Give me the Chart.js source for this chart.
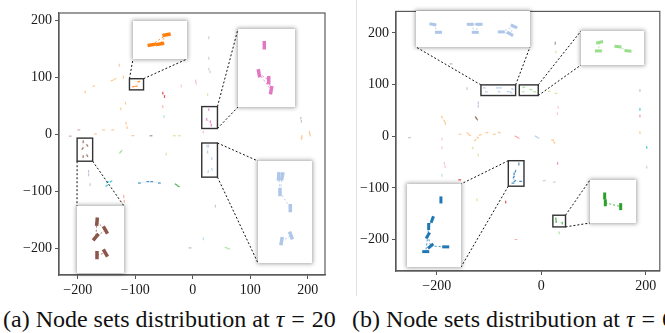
<!DOCTYPE html>
<html>
<head>
<meta charset="utf-8">
<script src="https://cdn.jsdelivr.net/npm/chart.js@4.4.0/dist/chart.umd.min.js"></script>
<style>
  body { margin: 0; background: #fff; width: 665px; height: 333px; overflow: hidden; position: relative; font-family: "Liberation Serif", serif; }
  canvas { position: absolute; }
  .inset { background: #fff; box-shadow: 0 0 4px 1px rgba(0,0,0,0.35); z-index: 2; }
  .cap { position: absolute; top: 307px; font-size: 24px; line-height: 24px; white-space: nowrap; color: #111; }
  .eq { margin: 0 1px; }
  #sep { position: absolute; left: 356px; top: 0; width: 1px; height: 296px; background: #e2e2e2; }
</style>
</head>
<body>
<canvas id="c20" width="340" height="300" style="left:0;top:0"></canvas>
<canvas id="c60" width="325" height="300" style="left:340px;top:0"></canvas>
<div id="sep"></div>
<div class="cap" style="left:3px">(a) Node sets distribution at <i>τ</i> <span class="eq">=</span> 20</div>
<div class="cap" style="left:352px">(b) Node sets distribution at <i>τ</i> <span class="eq">=</span> 60</div>
<script>
// tab20 colours, indexed by node class
var palette = ['#1f77b4','#aec7e8','#ff7f0e','#ffbb78','#2ca02c','#98df8a','#d62728','#ff9896','#9467bd','#c5b0d5',
               '#8c564b','#c49c94','#e377c2','#f7b6d2','#7f7f7f','#c7c7c7','#bcbd22','#dbdb8d','#17becf','#9edae5']

// ===== tau = 20 =====
var tau20X = [-127.5,-120.6,-140,-135,-172,-187,-103,-93.6,-97.7,-117,-125,-116,-114,-155,-139,-198,-169,-104,-213,-52,
              -49,-52,-50,-20,6,5,27.8,27.8,28,30,26,27.9,24.4,30.8,32.4,18.5,188,189,190,189,
              203,204,-72.5,-32,-23,-190.5,-183.3,-191.5,-190.5,-183.3,-126,-124,-46,-181,-181,-178.5,-148,-142,-149.5,-92.8,
              -78,-71.3,-58,-29,-25,-120,-119,24.9,27.4,25.8,33.1,26.9,33.6,39.4,18.5,58,62.6,-4.6]
var tau20Y = [122,100.6,95,97.5,85,75,84,92.8,84.8,55,45,20,12,8,8,8,1,-2,-3,72.5,
              66.7,49,31.6,85,90,94,170,134,115,110,70,43.7,26.5,22.3,16.1,4,28.6,23,-3.5,-7,
              3.5,-1,-2.3,-2.3,-2.3,-12.7,-19.2,-24.8,-39,-37.3,-31.6,-29,-34.5,-65,-71,-88,-84,-82.5,-90,-85.4,
              -83,-83,-85.4,-88,-91,-109,-117.5,-20.3,-20.3,-31.1,-42.3,-65.2,-61.3,-126,-183.6,-199,-201,-199.4]
var tau20Class = [3,3,3,3,3,3,2,2,2,3,3,3,3,3,3,11,3,3,11,6,
                  6,7,19,13,13,13,15,15,15,15,17,12,12,12,12,13,9,9,3,3,
                  3,3,14,17,17,10,10,10,10,10,5,5,17,9,9,9,18,18,18,0,
                  0,0,0,4,4,7,7,1,1,1,1,1,1,9,19,5,5,11]
var tau20Edges = [[2,3],[6,7],[7,8],[6,8],[11,12],[19,20],[24,25],[28,29],[32,33],[32,34],[33,34],[36,37],[38,39],[40,41],
                  [43,44],[45,46],[46,47],[45,47],[48,49],[50,51],[53,54],[56,57],[56,58],[59,60],[60,61],[61,62],[63,64],
                  [65,66],[67,69],[68,69],[69,70],[71,72],[75,76]]
var tau20XTicks = [-200, -100, 0, 100, 200]
var tau20YTicks = [-200, -100, 0, 100, 200]
var tau20Zoom = [[-110,-85.5,78.4,98],[15.7,43,10.5,49],[15.7,43,-75,-15],[-201,-174,-47,-6.4]]

// ===== tau = 60 =====
var tau60X = [26.8,28,-172.7,-142,-108.8,-105.1,-84,-78.2,-80.7,-63.4,-55,-57.6,-33.4,-34.3,-19.8,-12.4,15.3,28,189,-120.5,
              -120.5,31,32.5,189,189,-125,-123,-190,-185.5,-183.6,-252,-155.4,-140.8,-137,-126.2,-121.6,-116.6,-103.8,-89.9,-80.3,
              -48.4,-44,-10,-6,21.8,25,-190,-190,-185.5,-184,-131,-120.5,-190,31.3,-156,5.7,25,-123,-68,-42.8,
              -49.3,-52,-52.6,-50.5,-54.2,-39.2,28.1,28.6,40.2,34.4,-48.4,202,202,189]
var tau60Y = [180,163,140,92,93.5,86,93.5,93.5,86,86.4,91.6,84.5,94.9,86.1,90.5,86.1,87,83,88.5,64.7,
              58,43.6,56,52,39,36,33,37,29.5,24.4,-2.6,3.8,5.8,2,-7.7,-2.7,2.5,7,3.8,7,
              -0.7,-3,-0.7,-3,-7.7,-12.3,-5.8,-22,-52.7,-59,-23,-36,-76,-52.7,-84.6,-86,-89,-123,-127.7,-53.8,
              -67.8,-72.8,-79.2,-86.8,-90.8,-87.4,-160,-165.3,-168.3,-187.2,-200,-21.8,-60,7]
var tau60Class = [14,17,11,9,1,1,1,1,1,1,1,1,5,5,5,5,17,17,9,9,
                  9,13,13,18,12,10,10,3,3,3,9,3,3,3,3,3,3,3,3,3,
                  7,7,1,1,3,3,13,13,13,13,17,17,19,12,6,15,15,17,6,0,
                  0,0,0,0,0,0,4,4,4,5,7,18,15,3]
var tau60Edges = [[4,5],[6,7],[6,8],[7,8],[9,10],[9,11],[10,11],[12,13],[14,15],[19,20],[25,26],[27,28],[28,29],[32,33],
                  [34,35],[35,36],[40,41],[42,43],[44,45],[48,49],[60,61],[61,62],[62,63],[62,64],[63,65],[66,67],[67,68]]
var tau60XTicks = [-200, 0, 200]
var tau60YTicks = [-200, -100, 0, 100, 200]
var tau60Zoom = [[-115.4,-49,78.8,99.4],[-42,-5.7,78.8,99.4],[-63,-33,-96.8,-47.4],[22.3,46.5,-175.6,-153]]

// ----- styles -----
// node mark angle in degrees (default vertical)
var tau20Tilt = {2:-20,3:-20,4:-30,6:-10,7:-10,8:-10,13:0,14:0,15:0,16:0,17:0,18:0,32:80,34:100,38:80,39:80,40:80,41:80,
                 42:0,43:0,44:0,45:95,46:60,47:-50,49:60,50:-50,51:-50,56:-30,57:-30,58:-30,59:0,60:0,61:0,62:0,
                 63:30,64:30,67:95,68:100,71:100,72:70,75:20,76:20,77:0}
var tau60Tilt = {2:0,4:10,5:0,6:0,7:0,8:0,9:0,10:25,11:30,12:-15,13:0,14:5,15:5,16:0,17:0,25:60,26:60,27:60,28:60,30:0,
                 31:-20,32:30,33:30,34:-40,35:30,36:-20,37:-20,38:-15,39:20,40:30,41:30,42:30,43:30,44:10,45:60,
                 50:60,54:0,55:-10,56:-10,60:-70,62:-60,63:-40,64:0,65:0,70:0}
var tau20Insets = [
  {box: [133,21,54,38], links: [['tl','bl'],['tr','br']]},
  {box: [238,29,57,78], links: [['tr','tl'],['br','bl']]},
  {box: [258,161,54,102], links: [['tr','tl'],['br','bl']]},
  {box: [77,206,47,67], links: [['bl','tl'],['br','tr']]}
]
var tau60Insets = [
  {box: [416,11,114,36], links: [['tl','bl'],['tr','br']]},
  {box: [581,31,63,34], links: [['tr','tl'],['br','bl']]},
  {box: [407,184,54,83], links: [['tl','tr'],['bl','br']]},
  {box: [590,180,46,43], links: [['tr','tl'],['br','bl']]}
]

function rgba(hex, a) {
  var n = parseInt(hex.slice(1), 16)
  return 'rgba(' + (n >> 16) + ',' + ((n >> 8) & 255) + ',' + (n & 255) + ',' + a + ')'
}

function makeDatasets(X, Y, C, E, tilt, st) {
  var sets = [{
    data: X.map(function (x, i) { return {x: x, y: Y[i]} }),
    showLine: false,
    pointStyle: 'line',
    pointRadius: st.r,
    pointBorderWidth: st.bw,
    pointBorderColor: function (c) { return rgba(palette[C[c.dataIndex]], st.a) },
    pointBackgroundColor: function (c) { return rgba(palette[C[c.dataIndex]], st.a) },
    pointRotation: function (c) { var t = tilt[c.dataIndex]; return t === undefined ? 90 : t }
  }]
  E.forEach(function (e) {
    sets.push({
      data: [{x: X[e[0]], y: Y[e[0]]}, {x: X[e[1]], y: Y[e[1]]}],
      showLine: true,
      pointRadius: 0,
      borderColor: rgba(palette[C[e[0]]], st.ea),
      borderWidth: st.ew,
      borderDash: st.dash
    })
  })
  return sets
}

function fmt(v) { return v < 0 ? '\u2212' + Math.abs(v) : String(v) }

var framePlugin = {
  id: 'frame',
  afterDraw: function (chart, args, opts) {
    var ctx = chart.ctx, a = chart.chartArea, sx = chart.scales.x, sy = chart.scales.y
    ctx.save()
    ctx.strokeStyle = '#5a5a5a'
    ctx.lineWidth = 1.2
    ctx.strokeRect(a.left, a.top, a.right - a.left, a.bottom - a.top)
    opts.zooms.forEach(function (z, i) {
      var x0 = sx.getPixelForValue(z[0]), x1 = sx.getPixelForValue(z[1])
      var y0 = sy.getPixelForValue(z[3]), y1 = sy.getPixelForValue(z[2])
      var bc = {tl: [x0, y0], tr: [x1, y0], bl: [x0, y1], br: [x1, y1]}
      var b = opts.insets[i].box
      var l = b[0] - opts.offset, t = b[1]
      var ic = {tl: [l, t], tr: [l + b[2], t], bl: [l, t + b[3]], br: [l + b[2], t + b[3]]}
      ctx.strokeStyle = '#111'
      ctx.lineWidth = 1
      ctx.setLineDash([2, 2])
      opts.insets[i].links.forEach(function (k) {
        ctx.beginPath()
        ctx.moveTo(bc[k[0]][0], bc[k[0]][1])
        ctx.lineTo(ic[k[1]][0], ic[k[1]][1])
        ctx.stroke()
      })
      ctx.setLineDash([])
      ctx.strokeStyle = '#333'
      ctx.lineWidth = 1.4
      ctx.strokeRect(x0, y0, x1 - x0, y1 - y0)
    })
    ctx.restore()
  }
}

function axis(lim, ticks, fit) {
  return {
    type: 'linear', min: lim[0], max: lim[1],
    afterBuildTicks: function (s) { s.ticks = ticks.map(function (v) { return {value: v} }) },
    afterFit: fit,
    grid: {drawOnChartArea: false, drawTicks: true, tickLength: 4, color: '#555', lineWidth: 1},
    border: {display: true, color: '#5a5a5a', width: 1.2},
    ticks: {autoSkip: false, maxRotation: 0, padding: 3, color: '#1a1a1a',
            font: {family: 'Liberation Serif', size: 14}, callback: fmt}
  }
}

function mainChart(id, X, Y, C, E, tilt, xl, yl, xt, yt, pad, yw, xh, zooms, insets, offset) {
  return new Chart(document.getElementById(id), {
    type: 'scatter',
    data: {datasets: makeDatasets(X, Y, C, E, tilt, {r: 1.4, bw: 1.2, a: 0.8, ea: 0.35, ew: 0.6, dash: [1, 1]})},
    options: {
      responsive: false, animation: false, events: [],
      layout: {padding: pad},
      plugins: {legend: {display: false}, tooltip: {enabled: false},
                frame: {zooms: zooms, insets: insets, offset: offset}},
      scales: {
        x: axis(xl, xt, function (s) { s.height = xh }),
        y: axis(yl, yt, function (s) { s.width = yw })
      }
    },
    plugins: [framePlugin]
  })
}

function insetCharts(X, Y, C, E, tilt, zooms, insets, st) {
  zooms.forEach(function (z, i) {
    var b = insets[i].box
    var cv = document.createElement('canvas')
    cv.className = 'inset'
    cv.width = b[2]; cv.height = b[3]
    cv.style.left = b[0] + 'px'; cv.style.top = b[1] + 'px'
    document.body.appendChild(cv)
    new Chart(cv, {
      type: 'scatter',
      data: {datasets: makeDatasets(X, Y, C, E, tilt, st)},
      options: {
        responsive: false, animation: false, events: [],
        layout: {padding: 0},
        plugins: {legend: {display: false}, tooltip: {enabled: false}},
        scales: {
          x: {type: 'linear', display: false, min: z[0], max: z[1]},
          y: {type: 'linear', display: false, min: z[2], max: z[3]}
        }
      }
    })
  })
}

mainChart('c20', tau20X, tau20Y, tau20Class, tau20Edges, tau20Tilt, [-232.5, 230], [-247, 213.5],
          tau20XTicks, tau20YTicks, {left: 0, right: 15, top: 13, bottom: 0}, 59, 25, tau20Zoom, tau20Insets, 0)
mainChart('c60', tau60X, tau60Y, tau60Class, tau60Edges, tau60Tilt, [-278, 227], [-261, 241.7],
          tau60XTicks, tau60YTicks, {left: 0, right: 5, top: 9, bottom: 0}, 56, 29, tau60Zoom, tau60Insets, 340)
insetCharts(tau20X, tau20Y, tau20Class, tau20Edges, tau20Tilt, tau20Zoom, tau20Insets,
            {r: 4.2, bw: 3.5, a: 1, ea: 0.8, ew: 1, dash: [2, 2]})
insetCharts(tau60X, tau60Y, tau60Class, tau60Edges, tau60Tilt, tau60Zoom, tau60Insets,
            {r: 3.5, bw: 3, a: 1, ea: 0.8, ew: 1, dash: [2, 2]})
</script>
</body>
</html>
